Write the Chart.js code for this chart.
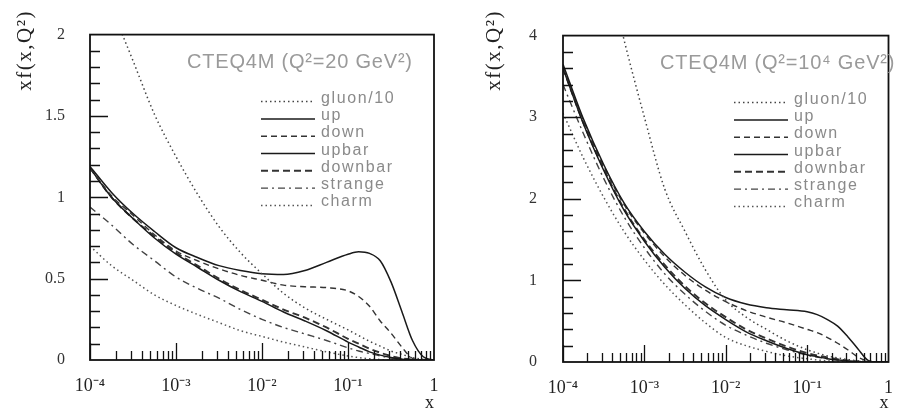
<!DOCTYPE html>
<html>
<head>
<meta charset="utf-8">
<script src="https://cdn.jsdelivr.net/npm/chart.js@4.4.1/dist/chart.umd.min.js"></script>
<style>
  html, body { margin: 0; padding: 0; background: #fff; }
  .wrap { display: flex; width: 908px; height: 412px; }
  canvas { display: block; }
</style>
</head>
<body>
<div class="wrap">
  <canvas id="lowQ" width="454" height="412"></canvas>
  <canvas id="highQ" width="454" height="412"></canvas>
</div>
<script>
// x grid (log spaced, 4 points per decade in the small-x part)
const xValues = [1e-4, 1.78e-4, 3.16e-4, 5.62e-4, 1e-3, 1.78e-3, 3.16e-3, 5.62e-3, 1e-2, 1.78e-2,
  3.16e-2, 5.62e-2, 0.1, 0.133, 0.178, 0.237, 0.316, 0.422, 0.562, 0.75, 1];
const xTickValues = [1e-4, 1e-3, 1e-2, 1e-1, 1];
const xTickLabels = ['10⁻⁴', '10⁻³', '10⁻²', '10⁻¹', '1'];
const seriesLabels = ['gluon/10', 'up', 'down', 'upbar', 'downbar', 'strange', 'charm'];

// Q^2 = 20 GeV^2
const gluon20    = [2.55, 2.17, 1.84, 1.51, 1.25, 1.02, 0.82, 0.66, 0.53, 0.41, 0.32, 0.25, 0.185, 0.15, 0.115, 0.085, 0.055, 0.035, 0.015, 0.004, 0];
const up20       = [1.19, 1.03, 0.90, 0.79, 0.69, 0.63, 0.58, 0.55, 0.53, 0.525, 0.55, 0.60, 0.65, 0.665, 0.655, 0.61, 0.48, 0.30, 0.12, 0.02, 0];
const down20     = [1.18, 1.01, 0.89, 0.77, 0.67, 0.61, 0.56, 0.52, 0.49, 0.46, 0.45, 0.445, 0.425, 0.39, 0.33, 0.24, 0.165, 0.08, 0.01, 0, 0];
const upbar20    = [1.18, 1.00, 0.87, 0.75, 0.65, 0.57, 0.49, 0.42, 0.36, 0.295, 0.24, 0.18, 0.11, 0.08, 0.05, 0.03, 0.015, 0.005, 0, 0, 0];
const downbar20  = [1.18, 1.00, 0.87, 0.76, 0.66, 0.58, 0.50, 0.43, 0.37, 0.31, 0.26, 0.20, 0.13, 0.10, 0.07, 0.045, 0.025, 0.01, 0.003, 0, 0];
const strange20  = [0.94, 0.83, 0.71, 0.61, 0.51, 0.44, 0.38, 0.31, 0.25, 0.20, 0.16, 0.12, 0.075, 0.055, 0.04, 0.025, 0.012, 0.005, 0.001, 0, 0];
const charm20    = [0.70, 0.58, 0.49, 0.40, 0.335, 0.28, 0.23, 0.18, 0.145, 0.11, 0.08, 0.05, 0.025, 0.015, 0.008, 0.003, 0, 0, 0, 0, 0];

// Q^2 = 10^4 GeV^2
const gluon1e4   = [7.6, 6.2, 5.0, 3.95, 3.0, 2.12, 1.60, 1.13, 0.76, 0.55, 0.40, 0.26, 0.15, 0.11, 0.075, 0.05, 0.03, 0.015, 0.005, 0.001, 0];
const up1e4      = [3.65, 2.98, 2.42, 1.95, 1.60, 1.32, 1.10, 0.92, 0.79, 0.71, 0.665, 0.64, 0.615, 0.58, 0.52, 0.44, 0.31, 0.16, 0.02, 0, 0];
const down1e4    = [3.62, 2.96, 2.40, 1.93, 1.58, 1.29, 1.06, 0.88, 0.74, 0.63, 0.55, 0.48, 0.40, 0.36, 0.30, 0.23, 0.15, 0.06, 0.01, 0, 0];
const upbar1e4   = [3.60, 2.92, 2.35, 1.86, 1.48, 1.16, 0.90, 0.69, 0.52, 0.37, 0.26, 0.165, 0.09, 0.065, 0.04, 0.025, 0.012, 0.004, 0, 0, 0];
const downbar1e4 = [3.60, 2.93, 2.37, 1.88, 1.50, 1.19, 0.93, 0.72, 0.55, 0.40, 0.29, 0.19, 0.11, 0.08, 0.055, 0.035, 0.018, 0.007, 0.002, 0, 0];
const strange1e4 = [3.40, 2.80, 2.25, 1.78, 1.40, 1.08, 0.83, 0.62, 0.45, 0.33, 0.23, 0.15, 0.085, 0.06, 0.04, 0.025, 0.012, 0.005, 0.001, 0, 0];
const charm1e4   = [3.05, 2.50, 2.02, 1.60, 1.25, 0.95, 0.70, 0.48, 0.30, 0.20, 0.13, 0.075, 0.04, 0.025, 0.015, 0.008, 0.003, 0, 0, 0, 0];

const lineStyles = [
  { color: '#444', width: 1.5, dash: [1.5, 3] },       // gluon/10
  { color: '#1a1a1a', width: 1.5, dash: [] },          // up
  { color: '#333', width: 1.4, dash: [6, 4] },         // down
  { color: '#1a1a1a', width: 1.5, dash: [] },          // upbar
  { color: '#333', width: 1.9, dash: [7, 4] },         // downbar
  { color: '#444', width: 1.4, dash: [7, 4, 2, 4] },   // strange
  { color: '#555', width: 1.5, dash: [1.5, 3] }        // charm
];

// inward ticks, frame, caption, in-plot legend and the y title
const framePlugin = {
  id: 'pdfFrame',
  afterDatasetsDraw(chart, args, o) {
    const { ctx, chartArea: a, scales: { x, y } } = chart;
    ctx.save();
    ctx.setLineDash([]);
    ctx.strokeStyle = '#111';
    ctx.lineWidth = 1.3;
    ctx.beginPath();
    for (let d = -4; d < 0; d++) {
      for (let m = 1; m <= 9; m++) {
        const px = Math.round(x.getPixelForValue(m * Math.pow(10, d))) + 0.5;
        ctx.moveTo(px, a.bottom);
        ctx.lineTo(px, a.bottom - (m === 1 ? 17 : 9));
      }
    }
    const n = Math.round(y.max / o.minor);
    const every = Math.round(o.major / o.minor);
    for (let i = 1; i < n; i++) {
      const py = Math.round(y.getPixelForValue(i * o.minor)) + 0.5;
      ctx.moveTo(a.left, py);
      ctx.lineTo(a.left + (i % every === 0 ? 18 : 10), py);
    }
    ctx.stroke();
    ctx.lineWidth = 1.8;
    ctx.strokeRect(a.left, a.top, a.right - a.left, a.bottom - a.top);

    // caption
    ctx.fillStyle = '#9a9a9a';
    ctx.font = '20px "Liberation Sans"';
    ctx.letterSpacing = '0.8px';
    ctx.textBaseline = 'middle';
    ctx.fillText(o.caption, a.left + 97, a.top + 28);

    // legend
    ctx.font = '16px "Liberation Sans"';
    ctx.letterSpacing = '1.6px';
    ctx.textBaseline = 'alphabetic';
    chart.data.datasets.forEach((ds, i) => {
      const yy = a.top + 68 + i * 17.3;
      ctx.strokeStyle = ds.borderColor;
      ctx.lineWidth = ds.borderWidth;
      ctx.setLineDash(ds.borderDash);
      ctx.beginPath();
      ctx.moveTo(a.left + 171, yy - 1);
      ctx.lineTo(a.left + 225, yy - 1);
      ctx.stroke();
      ctx.fillStyle = '#8a8a8a';
      ctx.fillText(ds.label, a.left + 231, yy);
    });

    // y title
    ctx.translate(o.yTitleX, 10);
    ctx.rotate(-Math.PI / 2);
    ctx.font = '21px "Liberation Serif"';
    ctx.letterSpacing = '1.5px';
    ctx.textAlign = 'right';
    ctx.textBaseline = 'middle';
    ctx.fillStyle = '#222';
    ctx.fillText('xf(x,Q²)', 0, 0);
    ctx.restore();
  }
};

function buildChart(id, p) {
  return new Chart(document.getElementById(id), {
    type: 'line',
    data: {
      datasets: seriesLabels.map((label, i) => ({
        label,
        data: xValues.map((xv, k) => ({ x: xv, y: p.series[i][k] })),
        borderColor: lineStyles[i].color,
        borderWidth: lineStyles[i].width,
        borderDash: lineStyles[i].dash,
        pointRadius: 0,
        cubicInterpolationMode: 'monotone',
        fill: false
      }))
    },
    options: {
      responsive: false,
      animation: false,
      layout: { padding: p.padding },
      plugins: {
        legend: { display: false },
        tooltip: { enabled: false },
        pdfFrame: { caption: p.caption, minor: p.yMinor, major: p.yStep, yTitleX: p.yTitleX }
      },
      scales: {
        x: {
          type: 'logarithmic',
          min: 1e-4,
          max: 1,
          afterBuildTicks: s => { s.ticks = xTickValues.map(v => ({ value: v })); },
          afterFit: s => { s.height = p.xAxisHeight; },
          grid: { display: false, drawTicks: false },
          border: { display: false },
          ticks: {
            autoSkip: false,
            maxRotation: 0,
            padding: 15,
            color: '#222',
            font: { family: '"Liberation Serif"', size: 18 },
            callback: v => xTickLabels[xTickValues.indexOf(v)]
          },
          title: {
            display: true,
            text: 'x',
            align: 'end',
            color: '#222',
            padding: 0,
            font: { family: '"Liberation Serif"', size: 18, lineHeight: 1 }
          }
        },
        y: {
          min: 0,
          max: p.yMax,
          afterFit: s => { s.width = p.yAxisWidth; },
          grid: { display: false, drawTicks: false },
          border: { display: false },
          ticks: {
            stepSize: p.yStep,
            padding: p.yLabelPad,
            color: '#333',
            font: { family: '"Liberation Serif"', size: 16 },
            callback: v => String(v)
          }
        }
      }
    },
    plugins: [framePlugin]
  });
}

buildChart('lowQ', {
  series: [gluon20, up20, down20, upbar20, downbar20, strange20, charm20],
  caption: 'CTEQ4M (Q²=20 GeV²)',
  yMax: 2, yStep: 0.5, yMinor: 0.1,
  padding: { top: 17, right: 20, bottom: 0, left: 0 },
  yAxisWidth: 90, xAxisHeight: 52, yLabelPad: 25, yTitleX: 25
});

buildChart('highQ', {
  series: [gluon1e4, up1e4, down1e4, upbar1e4, downbar1e4, strange1e4, charm1e4],
  caption: 'CTEQ4M (Q²=10⁴ GeV²)',
  yMax: 4, yStep: 1, yMinor: 0.2,
  padding: { top: 19, right: 2, bottom: 0, left: 0 },
  yAxisWidth: 109, xAxisHeight: 50, yLabelPad: 26, yTitleX: 40
});
</script>
</body>
</html>
